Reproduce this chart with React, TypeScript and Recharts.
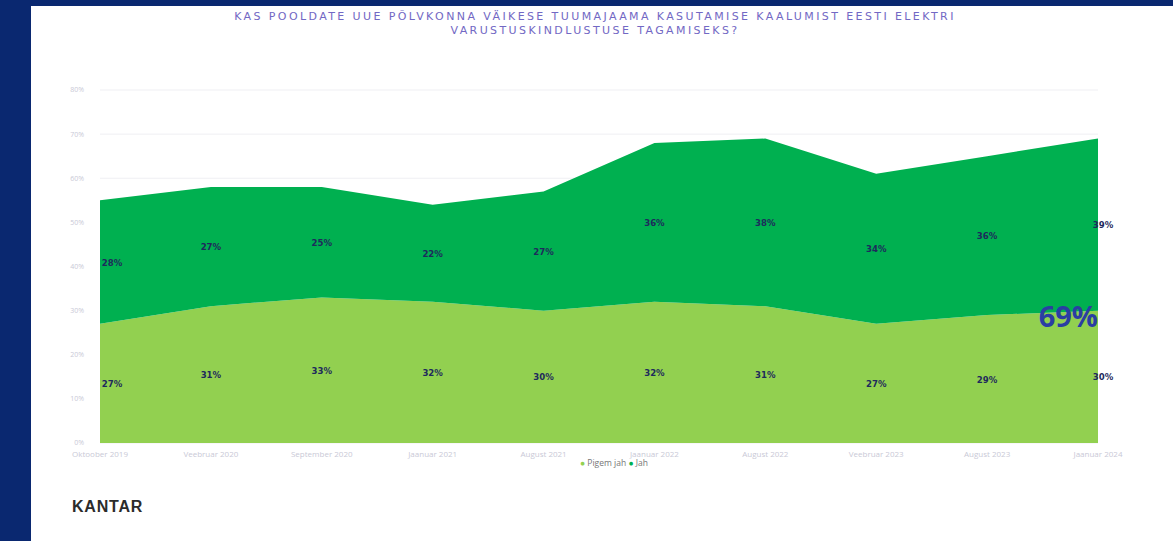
import React from "react";
import {
  ComposedChart,
  Area,
  Line,
  XAxis,
  YAxis,
  CartesianGrid,
  LabelList,
} from "recharts";

const periods = [
  "Oktoober 2019",
  "Veebruar 2020",
  "September 2020",
  "Jaanuar 2021",
  "August 2021",
  "Jaanuar 2022",
  "August 2022",
  "Veebruar 2023",
  "August 2023",
  "Jaanuar 2024",
];
const pigemJah = [27, 31, 33, 32, 30, 32, 31, 27, 29, 30];
const jah = [28, 27, 25, 22, 27, 36, 38, 34, 36, 39];
const yTicks = [0, 10, 20, 30, 40, 50, 60, 70, 80];

const LIGHT = "#92d050";
const DARK = "#00b050";
const NAVY = "#0a2870";
const LABEL = "#1e2a5c";

const data = periods.map((p, i) => ({
  period: p,
  pigem: pigemJah[i],
  jah: jah[i],
  midPigem: pigemJah[i] / 2,
  midJah: pigemJah[i] + jah[i] / 2,
  total: pigemJah[i] + jah[i],
}));

const last = periods.length - 1;

const shiftX = (i: number) => (i === 0 ? 12 : i === last ? 5 : 0);

const makeLabel = (values: number[]) => (props: any) => {
  const { x, y, index } = props;
  return (
    <text
      x={x + shiftX(index)}
      y={y + 1}
      textAnchor="middle"
      dominantBaseline="middle"
      fontSize={9.5}
      fontWeight={700}
      fill={LABEL}
      fontFamily="'DejaVu Sans Condensed', 'Liberation Sans Narrow', sans-serif"
    >
      {values[index]}%
    </text>
  );
};

const totalLabel = (props: any) => {
  const { x, y, index } = props;
  if (index !== last) return null;
  return (
    <text
      x={x}
      y={y + 9}
      textAnchor="end"
      dominantBaseline="middle"
      fontSize={29}
      fontWeight={700}
      fill="#2a3ea3"
      fontFamily="'Open Sans', sans-serif"
    >
      {data[last].total}%
    </text>
  );
};

export default function App() {
  return (
    <div
      style={{
        position: "fixed",
        left: 0,
        top: 0,
        width: 1173,
        height: 541,
        background: NAVY,
        overflow: "hidden",
      }}
    >
      <div
        style={{
          position: "absolute",
          left: 31,
          top: 6,
          width: 1142,
          height: 535,
          background: "#ffffff",
          fontFamily: "'Open Sans', sans-serif",
        }}
      >
        <div
          style={{
            position: "absolute",
            left: 0,
            top: 4,
            width: 1128,
            textAlign: "center",
            fontSize: 11,
            lineHeight: "14px",
            color: "#7268c4",
            letterSpacing: 2.4,
            fontFamily: "'DejaVu Sans', sans-serif",
          }}
        >
          KAS POOLDATE UUE PÕLVKONNA VÄIKESE TUUMAJAAMA KASUTAMISE KAALUMIST EESTI ELEKTRI
          <br />
          VARUSTUSKINDLUSTUSE TAGAMISEKS?
        </div>

        <div style={{ position: "absolute", left: 0, top: 0 }}>
          <ComposedChart
            width={1142}
            height={467}
            data={data}
            margin={{ top: 84, right: 75, bottom: 5, left: 29 }}
          >
            <CartesianGrid vertical={false} stroke="#efeff3" />
            <XAxis
              dataKey="period"
              axisLine={false}
              tickLine={false}
              tick={{ fontSize: 8, fill: "#c9c9d6" }}
              interval={0}
              height={25}
            />
            <YAxis
              domain={[0, 80]}
              ticks={yTicks}
              axisLine={false}
              tickLine={false}
              width={40}
              tickFormatter={(v) => `${v}%`}
              tick={{ fontSize: 7, fill: "#c9c9d6", dx: -8 }}
            />
            <Area
              type="linear"
              dataKey="pigem"
              stackId="s"
              fill={LIGHT}
              fillOpacity={1}
              stroke="none"
              isAnimationActive={false}
            />
            <Area
              type="linear"
              dataKey="jah"
              stackId="s"
              fill={DARK}
              fillOpacity={1}
              stroke="none"
              isAnimationActive={false}
            />
            <Line
              dataKey="midPigem"
              stroke="none"
              dot={false}
              activeDot={false}
              legendType="none"
              isAnimationActive={false}
            >
              <LabelList dataKey="midPigem" content={makeLabel(pigemJah)} />
            </Line>
            <Line
              dataKey="midJah"
              stroke="none"
              dot={false}
              activeDot={false}
              legendType="none"
              isAnimationActive={false}
            >
              <LabelList dataKey="midJah" content={makeLabel(jah)} />
            </Line>
            <Line
              dataKey="pigem"
              stroke="none"
              dot={false}
              activeDot={false}
              legendType="none"
              isAnimationActive={false}
            >
              <LabelList dataKey="pigem" content={totalLabel} />
            </Line>
          </ComposedChart>
        </div>

        <div
          style={{
            position: "absolute",
            left: 0,
            top: 451,
            width: 1166,
            textAlign: "center",
            fontSize: 8.5,
            color: "#777",
          }}
        >
          <span style={{ color: LIGHT }}>●</span> Pigem jah{" "}
          <span style={{ color: DARK }}>●</span> Jah
        </div>

        <div
          style={{
            position: "absolute",
            left: 41,
            top: 492,
            fontSize: 16,
            fontWeight: 700,
            color: "#2b2b2b",
            fontFamily: "'Liberation Sans', Arial, sans-serif",
            letterSpacing: 0.8,
          }}
        >
          KANTAR
        </div>
      </div>
    </div>
  );
}
